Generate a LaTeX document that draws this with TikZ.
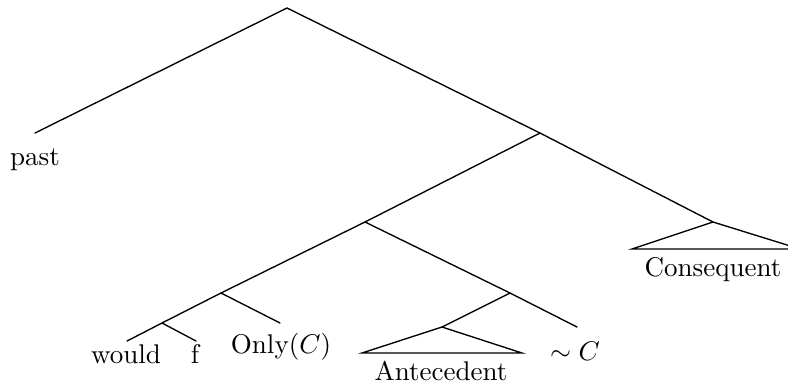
\documentclass[tikz,border=0pt]{standalone}
\begin{document}
\begin{tikzpicture}[x=0.37pt,y=-0.37pt,
  edge/.style={line width=0.5pt, line cap=round},
  lab/.style={anchor=base, inner sep=0pt, font=\normalsize}]
\useasboundingbox (0,0) rectangle (788,385);
\clip (0,0) rectangle (788,385);
% branch points
\coordinate (root) at (287,8);
\coordinate (pastend) at (35,133);
\coordinate (r1) at (540,133);
\coordinate (r2) at (365,222);
\coordinate (cons) at (713,222);
\coordinate (consL) at (632,249);
\coordinate (consR) at (800,249);
\coordinate (r3) at (221,293);
\coordinate (r4) at (510,293);
\coordinate (onlyend) at (280,323);
\coordinate (r5) at (162,323);
\coordinate (wouldend) at (127,341);
\coordinate (fend) at (196,341);
\coordinate (ante) at (442,327);
\coordinate (anteL) at (362,353);
\coordinate (anteR) at (522,353);
\coordinate (negend) at (577,327);
% labels
\node[lab] (past) at (35,165) {past};
\node[lab] (would) at (126,363) {would};
\node[lab] (f) at (195,363) {f};
\node[lab] (only) at (281,353) {Only$(C)$};
\node[lab] (neg) at (575,360) {$\sim C$};
\node[lab] (antelab) at (441,380) {Antecedent};
\node[lab] (conslab) at (713,276) {Consequent};
% edges
\draw[edge] (root) -- (pastend);
\draw[edge] (root) -- (r1);
\draw[edge] (r1) -- (r2);
\draw[edge] (r1) -- (cons);
\draw[edge] (cons) -- (consL) -- (consR) -- cycle;
\draw[edge] (r2) -- (r3);
\draw[edge] (r2) -- (r4);
\draw[edge] (r3) -- (r5);
\draw[edge] (r3) -- (onlyend);
\draw[edge] (r5) -- (wouldend);
\draw[edge] (r5) -- (fend);
\draw[edge] (r4) -- (ante);
\draw[edge] (r4) -- (negend);
\draw[edge] (ante) -- (anteL) -- (anteR) -- cycle;
\end{tikzpicture}
\end{document}
